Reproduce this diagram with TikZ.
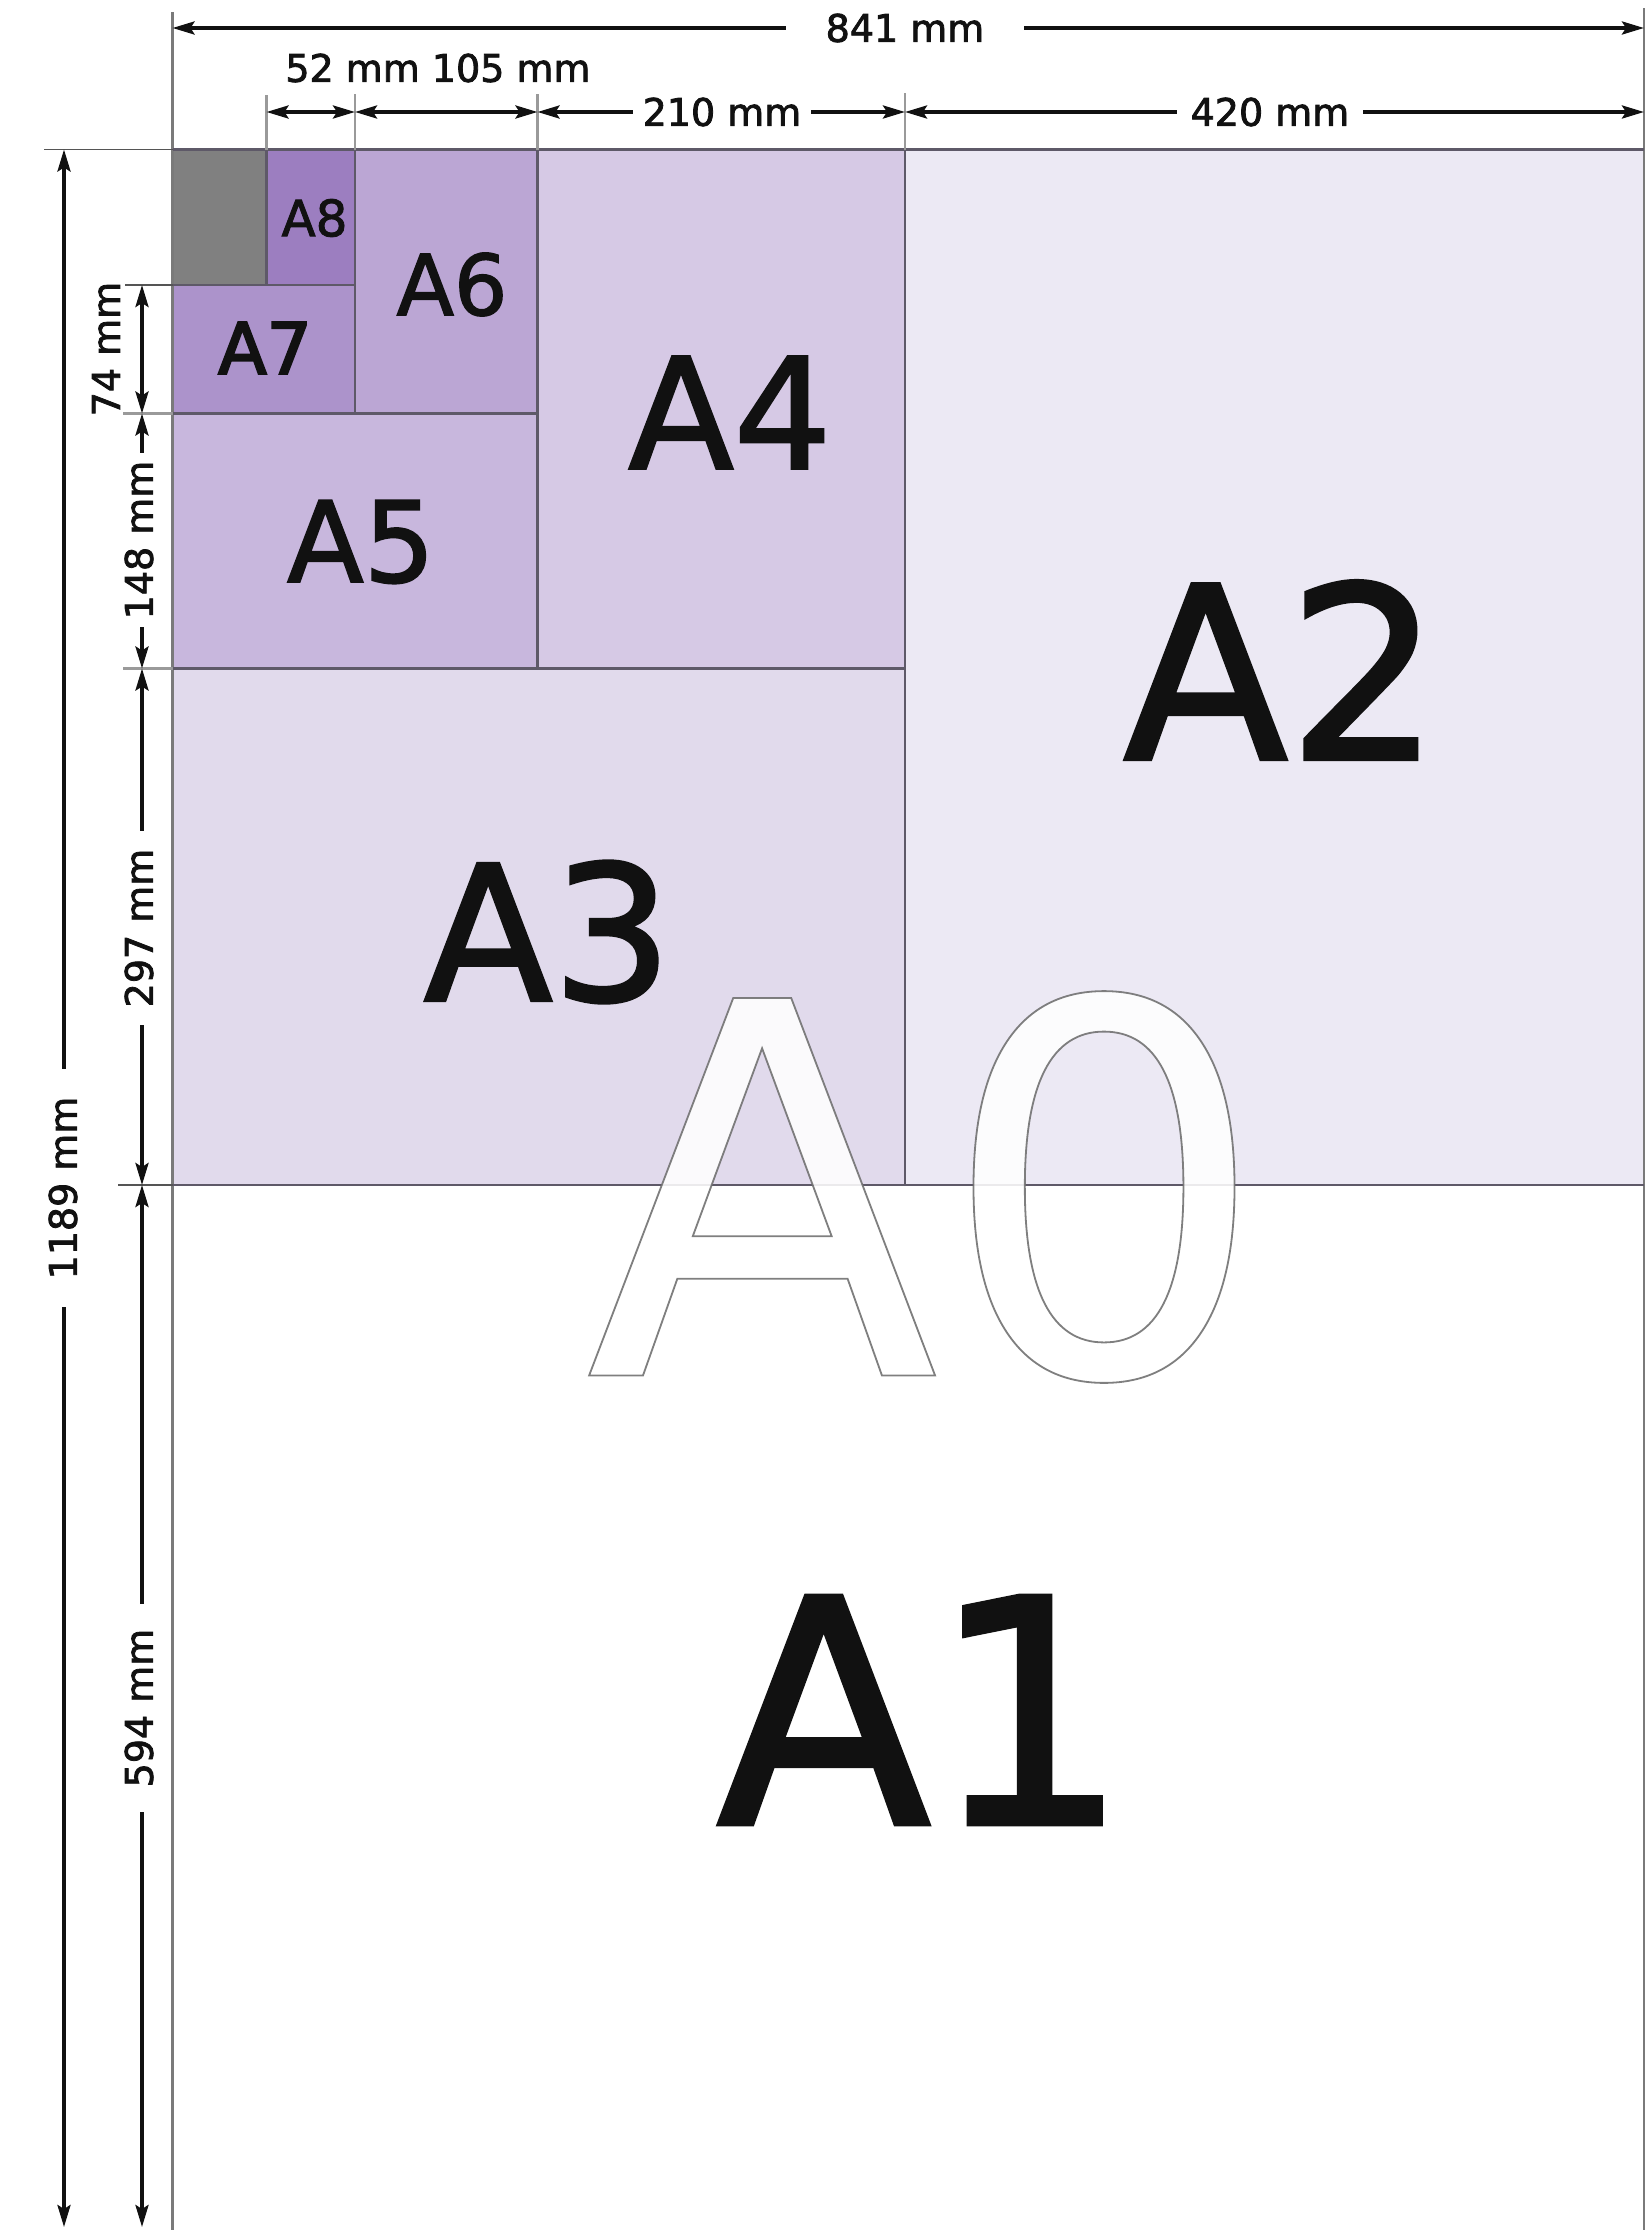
\documentclass[tikz,border=0pt]{standalone}
\usepackage{fontspec}
\setmainfont{DejaVu Sans}
\usetikzlibrary{arrows.meta}
\definecolor{cA2}{HTML}{ECE9F4}
\definecolor{cA3}{HTML}{E1DAEC}
\definecolor{cA4}{HTML}{D6C9E5}
\definecolor{cA5}{HTML}{C8B7DD}
\definecolor{cA6}{HTML}{BBA6D4}
\definecolor{cA7}{HTML}{AC93CB}
\definecolor{cA8}{HTML}{9C7EC0}
\definecolor{cgray}{HTML}{808080}
\definecolor{boxline}{HTML}{5E5968}
\definecolor{edgeline}{HTML}{7A7A7A}
\definecolor{extdark}{HTML}{555555}
\definecolor{extlight}{HTML}{9A9A9A}
\definecolor{ink}{HTML}{111111}
% thicken text by stroking it in the ink colour
\newcommand\embtext[2]{\special{pdf:literal direct 2 Tr #1 w 0.067 0.067 0.067 RG}#2\special{pdf:literal direct 0 Tr}}
% outlined text: white fill, grey stroke
\newcommand\outlinetext[1]{\special{pdf:literal direct 2 Tr 1.8 w 0.43 0.43 0.43 RG}#1\special{pdf:literal direct 0 Tr}}
\begin{document}
\begin{tikzpicture}[x=1pt,y=-1pt,
  sheet/.style={draw=boxline,line width=2.5pt},
  edge/.style={draw=edgeline,line width=2.5pt},
  dimline/.style={draw=ink,line width=3.5pt,{Stealth[length=22pt,width=13pt,inset=4pt]}-{Stealth[length=22pt,width=13pt,inset=4pt]}},
  dimtext/.style={font=\fontsize{38}{40}\selectfont,text=ink,inner sep=0pt},
  dimmask/.style={dimtext,fill=white,inner ysep=3pt},
  extd/.style={draw=extdark,line width=1.8pt},
  extl/.style={draw=extlight,line width=2.8pt},
  sizelabel/.style={text=ink,inner sep=0pt,font=\fontsize{#1}{#1}\selectfont},
  a0style/.style={inner sep=0pt,font=\fontsize{518}{518}\selectfont,text=white,text opacity=0.88},
]
\def\xa{172.5}\def\xb{266.5}\def\xc{355}\def\xd{537.5}\def\xe{905}\def\xf{1644}
\def\ya{149.5}\def\yb{285}\def\yc{413.5}\def\yd{668.5}\def\ye{1185}\def\yf{2232}
\useasboundingbox (0,0) rectangle (1650,2230);
\fill[white] (0,0) rectangle (1650,2230);

% sheet fills
\fill[white] (\xa,\ye) rectangle (\xf,\yf);
\fill[cA2] (\xe,\ya) rectangle (\xf,\ye);
\fill[cA3] (\xa,\yd) rectangle (\xe,\ye);
\fill[cA4] (\xd,\ya) rectangle (\xe,\yd);
\fill[cA5] (\xa,\yc) rectangle (\xd,\yd);
\fill[cA6] (\xc,\ya) rectangle (\xd,\yc);
\fill[cA7] (\xa,\yb) rectangle (\xc,\yc);
\fill[cA8] (\xb,\ya) rectangle (\xc,\yb);
\fill[cgray] (\xa,\ya) rectangle (\xb,\yb);

% outer edges of A0 (extended upwards as extension lines)
\draw[edge] (\xa,12) -- (\xa,\yf);
\draw[edge] (\xf,8) -- (\xf,\yf);

% sheet borders
\draw[extd] (44,\ya) -- (\xa,\ya);
\draw[sheet] (\xa,\ya) -- (\xf,\ya);
\draw[extd] (118,\ye) -- (\xa,\ye);
\draw[sheet] (\xa,\ye) -- (\xf,\ye);
\draw[sheet] (\xe,\ya) -- (\xe,\ye);
\draw[extl] (123,\yd) -- (\xa,\yd);
\draw[sheet] (\xa,\yd) -- (\xe,\yd);
\draw[sheet] (\xd,\ya) -- (\xd,\yd);
\draw[extl] (123,\yc) -- (\xa,\yc);
\draw[sheet] (\xa,\yc) -- (\xd,\yc);
\draw[sheet] (\xc,\ya) -- (\xc,\yc);
\draw[extd] (125,\yb) -- (\xa,\yb);
\draw[sheet] (\xa,\yb) -- (\xc,\yb);
\draw[sheet] (\xb,\ya) -- (\xb,\yb);

% top extension lines
\draw[extl] (\xb,95) -- (\xb,\ya);
\draw[extl] (\xc,94) -- (\xc,\ya);
\draw[extl] (\xd,94) -- (\xd,\ya);
\draw[extl] (\xe,93) -- (\xe,\ya);

% horizontal dimensions
\coordinate (t0) at (\xa,28);
\coordinate (t1) at (\xf,28);
\draw[dimline] (t0) -- (t1);
\node[dimmask,inner xsep=40pt] (l841) at (905,28) {\embtext{0.8}{841 mm}};

\coordinate (h1) at (\xb,112);
\coordinate (h2) at (\xc,112);
\coordinate (h3) at (\xd,112);
\coordinate (h4) at (\xe,112);
\coordinate (h5) at (\xf,112);
\draw[dimline] (h1) -- (h2);
\draw[dimline] (h2) -- (h3);
\draw[dimline] (h3) -- (h4);
\draw[dimline] (h4) -- (h5);
\node[dimtext] (l52) at (438,68) {\embtext{0.8}{52 mm 105 mm}};
\node[dimmask,inner xsep=10pt] (l210) at (722,112) {\embtext{0.8}{210 mm}};
\node[dimmask,inner xsep=14pt] (l420) at (1270,112) {\embtext{0.8}{420 mm}};

% vertical dimensions
\coordinate (v0) at (64,\ya);
\coordinate (v1) at (64,2227);
\draw[dimline] (v0) -- (v1);
\node[dimmask,rotate=90,inner xsep=28pt] (l1189) at (63,1188) {\embtext{0.8}{1189 mm}};

\coordinate (w1) at (142,\yb);
\coordinate (w2) at (142,\yc);
\coordinate (w3) at (142,\yd);
\coordinate (w4) at (142,\ye);
\coordinate (w5) at (142,2227);
\draw[dimline] (w1) -- (w2);
\draw[dimline] (w2) -- (w3);
\draw[dimline] (w3) -- (w4);
\draw[dimline] (w4) -- (w5);
\node[dimtext,rotate=90] (l74) at (106,349) {\embtext{0.8}{74 mm}};
\node[dimmask,rotate=90,inner xsep=8pt] (l148) at (139,540) {\embtext{0.8}{148 mm}};
\node[dimmask,rotate=90,inner xsep=18pt] (l297) at (139,928) {\embtext{0.8}{297 mm}};
\node[dimmask,rotate=90,inner xsep=25pt] (l594) at (139,1708) {\embtext{0.8}{594 mm}};

% size labels
\node[sizelabel=50] (lA8) at (314.5,218) {\embtext{0.9}{A8}};
\node[sizelabel=71] (lA7) at (265,348) {\embtext{2.2}{A7}};
\node[sizelabel=84] (lA6) at (452,284.5) {\embtext{1.4}{A6}};
\node[sizelabel=112] (lA5) at (361,542) {\embtext{1.9}{A5}};
\node[sizelabel=154] (lA4) at (730,412.5) {\embtext{2.6}{A4}};
\node[sizelabel=188] (lA3) at (548,932) {\embtext{3.2}{A3}};
\node[sizelabel=240] (lA2) at (1282,670) {\embtext{4}{A2}};
\node[sizelabel=312] (lA1) at (923,1710) {\embtext{5.2}{A1}};

% outlined A0
\node[a0style] (lA0) at (927,1187) {\outlinetext{A0}};
\end{tikzpicture}
\end{document}
